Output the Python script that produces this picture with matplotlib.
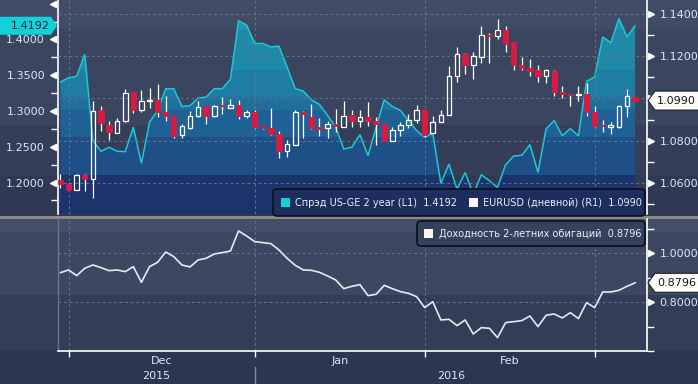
import matplotlib
matplotlib.use("Agg")
import matplotlib.pyplot as plt
import numpy as np
import pandas as pd
from matplotlib.patches import Polygon, FancyBboxPatch, Rectangle
from matplotlib.transforms import blended_transform_factory as blend
from matplotlib.colors import to_rgb

# ---------------- data ----------------
dates = pd.bdate_range("2015-11-30", "2016-03-08")

eur_open = [1.0614, 1.0595, 1.0568, 1.0638, 1.0616, 1.0943, 1.0876, 1.0838, 1.0892, 1.1029,
            1.0946, 1.0990, 1.0994, 1.0937, 1.0917, 1.0825, 1.0860, 1.0917, 1.0962, 1.0917,
            1.0967, 1.0956, 1.0970, 1.0919, 1.0938, 1.0868, 1.0862, 1.0832, 1.0749, 1.0781,
            1.0938, 1.0914, 1.0863, 1.0860, 1.0881, 1.0867, 1.0922, 1.0892, 1.0914, 1.0892,
            1.0879, 1.0800, 1.0851, 1.0873, 1.0898, 1.0943, 1.0835, 1.0889, 1.0921, 1.1108,
            1.1213, 1.1160, 1.1197, 1.1302, 1.1295, 1.1327, 1.1267, 1.1160, 1.1146, 1.1133,
            1.1108, 1.1130, 1.1032, 1.1022, 1.1016, 1.1022, 1.0935, 1.0876, 1.0867, 1.0863,
            1.0962, 1.1008]
eur_high = [1.0641, 1.0597, 1.0644, 1.0644, 1.0987, 1.0962, 1.0892, 1.0908, 1.1044, 1.1032,
            1.1038, 1.1051, 1.1067, 1.1010, 1.0919, 1.0879, 1.0940, 1.0990, 1.0964, 1.0968,
            1.1006, 1.0998, 1.0994, 1.0946, 1.0943, 1.0869, 1.0954, 1.0844, 1.0803, 1.0943,
            1.0940, 1.0975, 1.0906, 1.0892, 1.0949, 1.0990, 1.0946, 1.0946, 1.0981, 1.0911,
            1.0880, 1.0863, 1.0886, 1.0927, 1.0971, 1.0944, 1.0919, 1.0943, 1.1152, 1.1244,
            1.1214, 1.1221, 1.1343, 1.1311, 1.1379, 1.1343, 1.1268, 1.1197, 1.1187, 1.1157,
            1.1140, 1.1137, 1.1057, 1.1023, 1.1057, 1.1073, 1.0965, 1.0898, 1.0886, 1.0971,
            1.1046, 1.1008]
eur_low = [1.0575, 1.0565, 1.0565, 1.0559, 1.0530, 1.0844, 1.0803, 1.0835, 1.0887, 1.0930,
           1.0935, 1.0956, 1.0911, 1.0892, 1.0813, 1.0813, 1.0856, 1.0911, 1.0879, 1.0914,
           1.0924, 1.0956, 1.0903, 1.0908, 1.0860, 1.0857, 1.0829, 1.0716, 1.0721, 1.0780,
           1.0813, 1.0856, 1.0824, 1.0813, 1.0840, 1.0866, 1.0867, 1.0867, 1.0870, 1.0781,
           1.0797, 1.0797, 1.0824, 1.0860, 1.0883, 1.0819, 1.0835, 1.0889, 1.0921, 1.1078,
           1.1114, 1.1094, 1.1170, 1.1170, 1.1284, 1.1221, 1.1133, 1.1133, 1.1105, 1.1078,
           1.1073, 1.1010, 1.1003, 1.0962, 1.0990, 1.0919, 1.0867, 1.0840, 1.0832, 1.0860,
           1.0911, 1.0990]
eur_close = [1.0592, 1.0568, 1.0638, 1.0616, 1.0940, 1.0883, 1.0841, 1.0892, 1.1025, 1.0946,
             1.0990, 1.0995, 1.0935, 1.0917, 1.0824, 1.0870, 1.0917, 1.0959, 1.0917, 1.0965,
             1.0962, 1.0970, 1.0919, 1.0937, 1.0863, 1.0860, 1.0832, 1.0749, 1.0784, 1.0938,
             1.0927, 1.0860, 1.0857, 1.0881, 1.0870, 1.0917, 1.0892, 1.0914, 1.0892, 1.0879,
             1.0797, 1.0851, 1.0876, 1.0898, 1.0943, 1.0829, 1.0889, 1.0921, 1.1108, 1.1213,
             1.1160, 1.1200, 1.1302, 1.1295, 1.1327, 1.1260, 1.1160, 1.1146, 1.1130, 1.1105,
             1.1133, 1.1030, 1.1021, 1.1016, 1.1022, 1.0935, 1.0871, 1.0870, 1.0873, 1.0962,
             1.1010, 1.0990]

spread = [1.3405, 1.3466, 1.3485, 1.3794, 1.2586, 1.2436, 1.2493, 1.2436, 1.2432, 1.2773,
          1.2268, 1.2844, 1.3007, 1.3312, 1.3312, 1.3064, 1.3073, 1.3181, 1.3195, 1.3312,
          1.3312, 1.3443, 1.4262, 1.4201, 1.3944, 1.3944, 1.3897, 1.3906, 1.3616, 1.3312,
          1.3279, 1.3157, 1.3092, 1.2937, 1.2773, 1.2469, 1.2493, 1.2670, 1.2375, 1.2773,
          1.3157, 1.3064, 1.3007, 1.2867, 1.2727, 1.2633, 1.2689, 1.1987, 1.2258, 1.1907,
          1.2140, 1.1837, 1.2109, 1.2024, 1.1931, 1.2249, 1.2371, 1.2380, 1.2530, 1.2141,
          1.2750, 1.2867, 1.2656, 1.2755, 1.2652, 1.3415, 1.3476, 1.4037, 1.3953, 1.4295,
          1.4037, 1.4192]

yield2y = [0.9211, 0.9320, 0.9088, 0.9388, 0.9524, 0.9415, 0.9293, 0.9320, 0.9252, 0.9456,
           0.8816, 0.9456, 0.9633, 1.0054, 0.9864, 0.9524, 0.9442, 0.9728, 0.9796, 0.9973,
           1.0027, 1.0095, 1.0912, 1.0707, 1.0476, 1.0435, 1.0395, 1.0136, 0.9796, 0.9510,
           0.9320, 0.9306, 0.9224, 0.9075, 0.8912, 0.8558, 0.8653, 0.8721, 0.8272, 0.8327,
           0.8694, 0.8558, 0.8435, 0.8367, 0.8231, 0.7782, 0.8027, 0.7279, 0.7306, 0.7048,
           0.7279, 0.6707, 0.6966, 0.6939, 0.6558, 0.7170, 0.7211, 0.7252, 0.7442, 0.7007,
           0.7469, 0.7524, 0.7361, 0.7578, 0.7333, 0.7986, 0.7782, 0.8422, 0.8422, 0.8490,
           0.8653, 0.8796]

left_ticks = [1.20, 1.25, 1.30, 1.35, 1.40, 1.45]
left_labels = ["1.2000", "1.2500", "1.3000", "1.3500", "1.4000", ""]
left_minor = [1.175, 1.225, 1.275, 1.325, 1.375, 1.425]
right_ticks = [1.06, 1.08, 1.10, 1.12, 1.14]
right_labels = ["1.0600", "1.0800", "", "1.1200", "1.1400"]
right_minor = [1.05, 1.07, 1.09, 1.11, 1.13]
low_ticks = [0.8, 1.0]
low_labels = ["0.8000", "1.0000"]
low_minor = [0.6, 0.7, 0.9, 1.1]

legend_spread = "Спрэд US-GE 2 year (L1)  1.4192"
legend_eur = "EURUSD (дневной) (R1)  1.0990"
legend_yield = "Доходность 2-летних обигаций  0.8796"

# ---------------- layout ----------------
W, H = 698, 384
fig = plt.figure(figsize=(W / 100, H / 100), dpi=100)
TXT = "#dfe7f2"
GRID = "#5d7391"
FONT = "DejaVu Sans"


def rect(x0, y0, x1, y1):
    return [x0 / W, 1 - y1 / H, (x1 - x0) / W, (y1 - y0) / H]


# background bands (pixel space)
bg = fig.add_axes([0, 0, 1, 1], zorder=-10)
bg.set_xlim(0, W)
bg.set_ylim(H, 0)
bg.axis("off")
for y0, y1, c in [(0, 29, "#404b65"), (29, 125, "#3a4560"), (125, 175, "#343e58"),
                  (175, 216, "#2f3953"), (216, 219, "#8b8985"), (219, 232, "#434f69"),
                  (232, 295, "#3c4862"), (295, 351, "#323d57"), (351, 384, "#2c3650")]:
    bg.axhspan(y0, y1, color=c, lw=0)

x = np.arange(len(dates))
XL = (-0.37, 72.47)

# ---------- top panel ----------
ax = fig.add_axes(rect(57.5, 0, 647, 214))
ax.patch.set_alpha(0)
ax.set_xlim(*XL)
ax.set_ylim(1.1560, 1.4552)
axR = ax.twinx()
axR.set_ylim(1.0452, 1.1467)
axR.set_xlim(*XL)

# gradient fill under the spread line
band_cols = [(0, 29, "#2494ae"), (29, 70, "#1f89a7"), (70, 97, "#1e7da2"), (97, 110, "#1f6f9a"),
             (110, 137, "#1f6194"), (137, 175, "#1e4f86"), (175, 214, "#1c336b")]
img = np.zeros((214, 1, 3))
for y0, y1, col in band_cols:
    img[y0:y1, 0, :] = to_rgb(col)
verts = [(x[0], 1.0)] + list(zip(x, spread)) + [(x[-1], 1.0)]
clip = Polygon(verts, closed=True, transform=ax.transData, facecolor="none", edgecolor="none")
ax.add_patch(clip)
im = ax.imshow(img, extent=[0, 1, 0, 1], transform=ax.transAxes, aspect="auto",
               interpolation="nearest", zorder=1)
im.set_clip_path(clip)
ax.plot(x, spread, color="#1ec8d4", lw=1.1, zorder=2, solid_joinstyle="miter")

# grid in right axis (above fill, below candles)
months = dates.to_period("M")
starts = [i for i in range(1, len(dates)) if months[i] != months[i - 1]]
for v in right_ticks:
    axR.axhline(v, color=GRID, lw=0.8, ls=(0, (2.5, 2.5)), zorder=1)
for s in starts:
    axR.axvline(s, color=GRID, lw=0.8, ls=(0, (2.5, 2.5)), zorder=1)

# candles
o = np.array(eur_open); c = np.array(eur_close); hi = np.array(eur_high); lo = np.array(eur_low)
top = np.maximum(o, c); bot = np.minimum(o, c)
axR.vlines(x, top, hi, color="white", lw=0.9, zorder=3)
axR.vlines(x, lo, bot, color="white", lw=0.9, zorder=3)
up = c >= o
RED = "#dc1940"
axR.bar(x[~up], (top - bot)[~up], bottom=bot[~up], width=0.66, color=RED,
        edgecolor=RED, lw=0.6, zorder=4)
axR.bar(x[up], (top - bot)[up], bottom=bot[up], width=0.58, facecolor="none",
        edgecolor="white", lw=0.9, zorder=4)

# axes styling
for a in (ax, axR):
    a.set_xticks([])
    for s in ("top", "bottom"):
        a.spines[s].set_visible(False)
ax.spines["left"].set_color("white")
ax.spines["left"].set_linewidth(1.2)
ax.spines["right"].set_visible(False)
axR.spines["left"].set_visible(False)
axR.spines["right"].set_color("white")
axR.spines["right"].set_linewidth(1.2)

ax.set_yticks(left_ticks)
ax.set_yticklabels(left_labels)
ax.set_yticks(left_minor, minor=True)
ax.tick_params(axis="y", which="major", length=0, pad=9, labelsize=8, labelcolor=TXT)
ax.tick_params(axis="y", which="minor", length=5, width=1, color="white")
axR.set_yticks(right_ticks)
axR.set_yticklabels(right_labels)
axR.set_yticks(right_minor, minor=True)
axR.tick_params(axis="y", which="major", length=0, pad=9, labelsize=8, labelcolor=TXT)
axR.tick_params(axis="y", which="minor", length=5, width=1, color="white")
for t in ax.get_yticklabels() + axR.get_yticklabels():
    t.set_family(FONT)

tl = blend(ax.transAxes, ax.transData)
ax.plot([-4.5 / 590] * len(left_ticks), left_ticks, ls="none", marker="<", ms=5,
        color="white", transform=tl, clip_on=False)
tr = blend(axR.transAxes, axR.transData)
axR.plot([1 + 4.5 / 590] * len(right_ticks), right_ticks, ls="none", marker=">", ms=5,
         color="white", transform=tr, clip_on=False)

# ---------- bottom panel ----------
axB = fig.add_axes(rect(57.5, 219, 647, 351.3))
axB.patch.set_alpha(0)
axB.set_xlim(*XL)
axB.set_ylim(0.600, 1.140)
for v in low_ticks:
    axB.axhline(v, color=GRID, lw=0.8, ls=(0, (2.5, 2.5)), zorder=1)
for s in starts:
    axB.axvline(s, color=GRID, lw=0.8, ls=(0, (2.5, 2.5)), zorder=1)
axB.plot(x, yield2y, color="#e6eaef", lw=1.2, zorder=3)
axB.yaxis.tick_right()
axB.set_yticks(low_ticks)
axB.set_yticklabels(low_labels)
axB.set_yticks(low_minor, minor=True)
axB.tick_params(axis="y", which="major", length=0, pad=9, labelsize=8, labelcolor=TXT)
axB.tick_params(axis="y", which="minor", length=5, width=1, color="white")
axB.set_xticks(starts)
axB.set_xticklabels([])
axB.tick_params(axis="x", length=4, width=1, color="white")
for t in axB.get_yticklabels():
    t.set_family(FONT)
axB.spines["top"].set_visible(False)
axB.spines["right"].set_color("white")
axB.spines["right"].set_linewidth(1.2)
axB.spines["bottom"].set_color("white")
axB.spines["bottom"].set_linewidth(1.2)
axB.spines["left"].set_color("#6b7387")
axB.spines["left"].set_linewidth(1)
tb = blend(axB.transAxes, axB.transData)
axB.plot([1 + 4.5 / 590] * len(low_ticks), low_ticks, ls="none", marker=">", ms=5,
         color="white", transform=tb, clip_on=False)

# month / year labels
txB = blend(axB.transData, bg.transData)
for k in range(len(starts) - 1):
    mid = (starts[k] + starts[k + 1]) / 2
    axB.text(mid, 361, dates[starts[k]].strftime("%b"), transform=txB, ha="center",
             va="center", color=TXT, fontsize=8, family=FONT, clip_on=False)
year_split = [i for i in starts if dates[i].month == 1][0]
axB.text((XL[0] + year_split) / 2, 376, str(dates[0].year), transform=txB, ha="center",
         va="center", color=TXT, fontsize=8, family=FONT, clip_on=False)
axB.text((year_split + XL[1]) / 2, 376, str(dates[year_split].year), transform=txB,
         ha="center", va="center", color=TXT, fontsize=8, family=FONT, clip_on=False)
axB.plot([year_split, year_split], [367, 384], transform=txB, color="#7f8aa0", lw=1,
         clip_on=False)

# ---------- overlay: value boxes and legends ----------
ov = fig.add_axes([0, 0, 1, 1], zorder=20)
ov.set_xlim(0, W)
ov.set_ylim(H, 0)
ov.axis("off")


def ypx(a, v):
    return H - a.transData.transform((0, v))[1]


yc = ypx(ax, spread[-1])
ov.add_patch(Polygon([(0, yc - 9), (51, yc - 9), (57, yc), (51, yc + 9), (0, yc + 9)],
                     closed=True, facecolor="#14d0d8", edgecolor="none"))
ov.text(30, yc, f"{spread[-1]:.4f}", ha="center", va="center", fontsize=8,
        color="#0a2438", family=FONT)

yc = ypx(axR, eur_close[-1])
ov.add_patch(Polygon([(648, yc), (655, yc - 9.5), (699, yc - 9.5), (699, yc + 9.5), (655, yc + 9.5)],
                     closed=True, facecolor="#fdf9f4", edgecolor="#1a1f2a", lw=0.8))
ov.text(657, yc, f"{eur_close[-1]:.4f}", ha="left", va="center", fontsize=8,
        color="#101826", family=FONT)

yc = ypx(axB, yield2y[-1])
ov.add_patch(Polygon([(648, yc), (655, yc - 9.5), (699, yc - 9.5), (699, yc + 9.5), (655, yc + 9.5)],
                     closed=True, facecolor="#fdf9f4", edgecolor="#1a1f2a", lw=0.8))
ov.text(657, yc, f"{yield2y[-1]:.4f}", ha="left", va="center", fontsize=8,
        color="#101826", family=FONT)

# top legend
ov.add_patch(FancyBboxPatch((273, 189), 372, 27, boxstyle="round,pad=0,rounding_size=4",
                            facecolor="#1d2d5d", edgecolor="#0a0e1a", lw=1.2))
ov.add_patch(Rectangle((281, 198), 9, 9, facecolor="#14d0d8", edgecolor="none"))
ov.text(295, 202.5, legend_spread, ha="left", va="center", fontsize=7, color="#e8eef6",
        family=FONT)
ov.add_patch(Rectangle((469, 198), 9, 9, facecolor="#fdf6ee", edgecolor="none"))
ov.text(483, 202.5, legend_eur, ha="left", va="center", fontsize=7, color="#e8eef6",
        family=FONT)

# bottom legend
ov.add_patch(FancyBboxPatch((417, 221), 228, 25, boxstyle="round,pad=0,rounding_size=4",
                            facecolor="#36425c", edgecolor="#0a0e1a", lw=1.2))
ov.add_patch(Rectangle((424, 229), 9, 9, facecolor="#fdf6ee", edgecolor="none"))
ov.text(439, 233.5, legend_yield, ha="left", va="center", fontsize=7, color="#e8eef6",
        family=FONT)

fig.savefig("out.png", dpi=100)
